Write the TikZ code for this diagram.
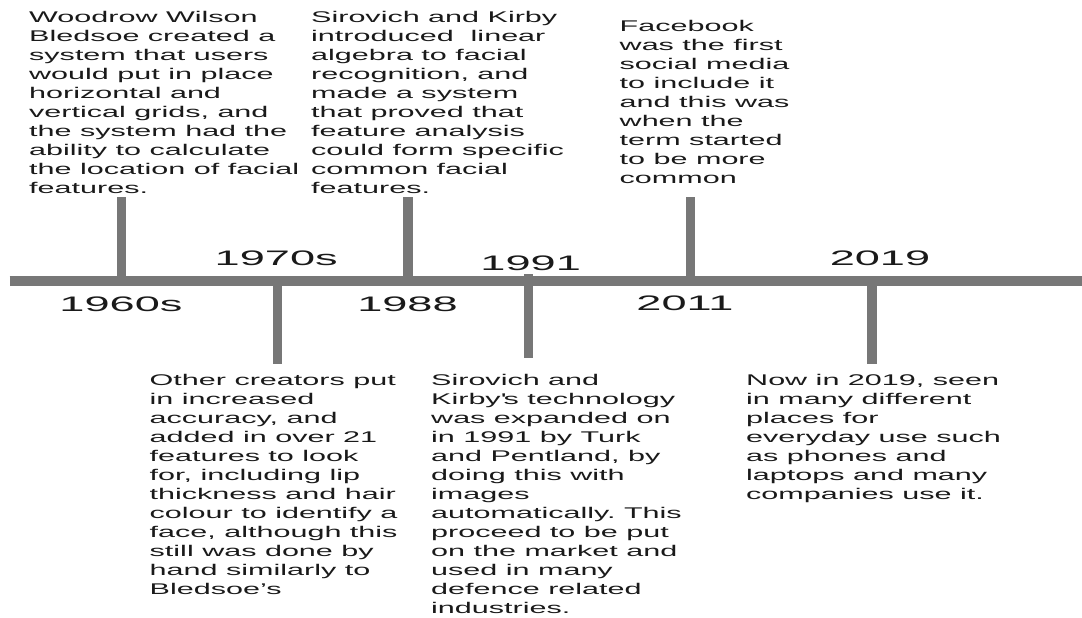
\documentclass[tikz,border=0pt]{standalone}
\usepackage{fontspec}
\setmainfont{Liberation Sans}
\newfontfamily\bodyf[FakeStretch=1.97]{Liberation Sans}
\newfontfamily\labf[FakeStretch=2.15]{Liberation Sans}
\definecolor{tl}{RGB}{119,119,119}
\definecolor{ink}{RGB}{26,26,26}
\frenchspacing
\tikzset{
  desc/.style={anchor=base west, inner sep=0pt, text=ink, font=\bodyf\fontsize{15.5}{19}\selectfont},
  yearlbl/.style={anchor=base, inner sep=0pt, text=ink, font=\labf\fontsize{21}{24}\selectfont},
  bar/.style={draw=tl, line width=10.5pt, line cap=butt},
  stem/.style={draw=tl, line width=9.5pt, line cap=butt},
}
\begin{document}
\begin{tikzpicture}[x=1pt,y=-1pt]
\useasboundingbox (0,0) rectangle (1082,618);

% timeline bar
\coordinate (barL) at (9.7,280.8);
\coordinate (barR) at (1082,280.8);

% stem end points
\coordinate (s1a) at (121.7,197.3); \coordinate (s1b) at (121.7,281);
\coordinate (s2a) at (277.7,281);   \coordinate (s2b) at (277.7,364);
\coordinate (s3a) at (408,197.3);   \coordinate (s3b) at (408,281);
\coordinate (s4a) at (528.5,274.3); \coordinate (s4b) at (528.5,357.7);
\coordinate (s5a) at (690.7,197.3); \coordinate (s5b) at (690.7,281);
\coordinate (s6a) at (872,281);     \coordinate (s6b) at (872,364);

\draw[stem] (s1a) -- (s1b);
\draw[stem] (s2a) -- (s2b);
\draw[stem] (s3a) -- (s3b);
\draw[stem] (s4a) -- (s4b);
\draw[stem] (s5a) -- (s5b);
\draw[stem] (s6a) -- (s6b);
\draw[bar] (barL) -- (barR);

% year labels
\node[yearlbl] (y1960) at (121,311) {1960s};
\node[yearlbl] (y1970) at (276.2,265.3) {1970s};
\node[yearlbl] (y1988) at (407.5,311.5) {1988};
\node[yearlbl] (y1991) at (530.7,270) {1991};
\node[yearlbl] (y2011) at (685,310.7) {2011};
\node[yearlbl] (y2019) at (880,265) {2019};

% descriptions
\node[desc] (b1) at (29,22.7) {\begin{tabular}[t]{@{}l@{}}
Woodrow Wilson\\
Bledsoe created a\\
system that users\\
would put in place\\
horizontal and\\
vertical grids, and\\
the system had the\\
ability to calculate\\
the location of facial\\
features.
\end{tabular}};

\node[desc] (b2) at (311,22.7) {\begin{tabular}[t]{@{}l@{}}
Sirovich and Kirby\\
introduced~~linear\\
algebra to facial\\
recognition, and\\
made a system\\
that proved that\\
feature analysis\\
could form specific\\
common facial\\
features.
\end{tabular}};

\node[desc] (b3) at (619.5,31.7) {\begin{tabular}[t]{@{}l@{}}
Facebook\\
was the first\\
social media\\
to include it\\
and this was\\
when the\\
term started\\
to be more\\
common
\end{tabular}};

\node[desc] (b4) at (149.5,385) {\begin{tabular}[t]{@{}l@{}}
Other creators put\\
in increased\\
accuracy, and\\
added in over 21\\
features to look\\
for, including lip\\
thickness and hair\\
colour to identify a\\
face, although this\\
still was done by\\
hand similarly to\\
Bledsoe’s
\end{tabular}};

\node[desc] (b5) at (431,385) {\begin{tabular}[t]{@{}l@{}}
Sirovich and\\
Kirby\textquotesingle s technology\\
was expanded on\\
in 1991 by Turk\\
and Pentland, by\\
doing this with\\
images\\
automatically. This\\
proceed to be put\\
on the market and\\
used in many\\
defence related\\
industries.
\end{tabular}};

\node[desc] (b6) at (746,385) {\begin{tabular}[t]{@{}l@{}}
Now in 2019, seen\\
in many different\\
places for\\
everyday use such\\
as phones and\\
laptops and many\\
companies use it.
\end{tabular}};
\end{tikzpicture}
\end{document}
